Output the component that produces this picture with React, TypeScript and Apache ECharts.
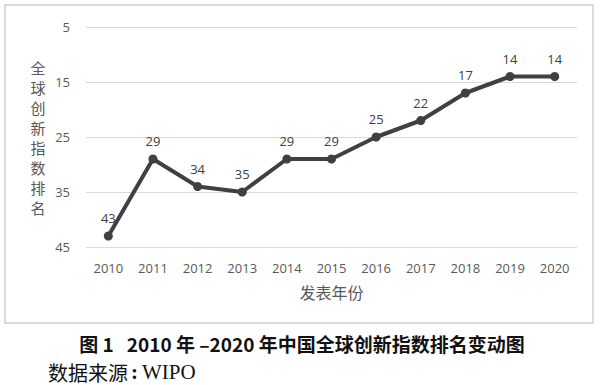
import React, { useEffect, useRef } from "react";
import * as echarts from "echarts";

const years = ["2010", "2011", "2012", "2013", "2014", "2015", "2016", "2017", "2018", "2019", "2020"];
const ranks = [43, 29, 34, 35, 29, 29, 25, 22, 17, 14, 14];
const yTicks = { min: 5, max: 45, interval: 10 };
const yName = "全球创新指数排名";
const xName = "发表年份";
const caption = "图 1   2010 年 –2020 年中国全球创新指数排名变动图";
const sourceLabel = "数据来源";
const sourceName = "WIPO";

export default function App() {
  const ref = useRef<HTMLDivElement>(null);
  useEffect(() => {
    if (!ref.current) return;
    const chart = echarts.init(ref.current, null, { renderer: "svg" });
    chart.setOption({
      animation: false,
      backgroundColor: "#ffffff",
      grid: { left: 86, right: 23, top: 27, bottom: 138 },
      xAxis: {
        type: "category",
        data: years,
        boundaryGap: true,
        axisLine: { show: false },
        axisTick: { show: false },
        axisLabel: { color: "#595959", fontSize: 13, fontFamily: "Open Sans", margin: 14 },
        name: xName,
        nameLocation: "middle",
        nameGap: 37,
        nameTextStyle: { color: "#595959", fontSize: 16, fontFamily: "Noto Sans CJK SC" },
      },
      yAxis: {
        type: "value",
        inverse: true,
        min: yTicks.min,
        max: yTicks.max,
        interval: yTicks.interval,
        axisLine: { show: false },
        axisTick: { show: false },
        axisLabel: { color: "#595959", fontSize: 13, fontFamily: "Open Sans", margin: 16 },
        splitLine: { lineStyle: { color: "#d9d9d9", width: 1.2 } },
      },
      graphic: [
        {
          type: "rect",
          shape: { x: 5, y: 5, width: 588, height: 318 },
          style: { fill: "none", stroke: "#cfcfcf", lineWidth: 1.5 },
          silent: true,
          z: -1,
        },
        {
          type: "text",
          x: 38,
          y: 137,
          style: {
            text: yName.split("").join("\n"),
            fill: "#595959",
            fontSize: 15,
            lineHeight: 20,
            fontFamily: "Noto Sans CJK SC",
            textAlign: "center",
            textVerticalAlign: "middle",
          },
        },
        {
          type: "text",
          x: 302,
          y: 343,
          style: {
            text: caption,
            fill: "#111111",
            fontSize: 19,
            fontWeight: "bold",
            fontFamily: "Noto Sans CJK SC",
            textAlign: "center",
            textVerticalAlign: "middle",
          },
        },
        {
          type: "text",
          x: 48,
          y: 372,
          style: {
            text: "{a|" + sourceLabel + "}{c|:}{b|" + sourceName + "}",
            textVerticalAlign: "middle",
            rich: {
              a: { fontSize: 20, lineHeight: 22, fill: "#111111", fontFamily: "Noto Sans CJK SC" },
              c: { fontSize: 21, lineHeight: 22, fill: "#111111", fontFamily: "Liberation Serif", fontWeight: "bold", padding: [0, 4, 0, 3] },
              b: { fontSize: 21, lineHeight: 22, fill: "#111111", fontFamily: "Liberation Serif" },
            },
          },
        },
      ],
      series: [
        {
          type: "line",
          data: ranks,
          symbol: "circle",
          symbolSize: 9,
          lineStyle: { color: "#404040", width: 4 },
          itemStyle: { color: "#404040" },
          label: {
            show: true,
            position: "top",
            distance: 7,
            color: "#404040",
            fontSize: 13,
            fontFamily: "Open Sans",
          },
        },
      ],
    });
    return () => chart.dispose();
  }, []);
  return <div ref={ref} style={{ position: "fixed", left: 0, top: 0, width: 600, height: 385 }} />;
}
